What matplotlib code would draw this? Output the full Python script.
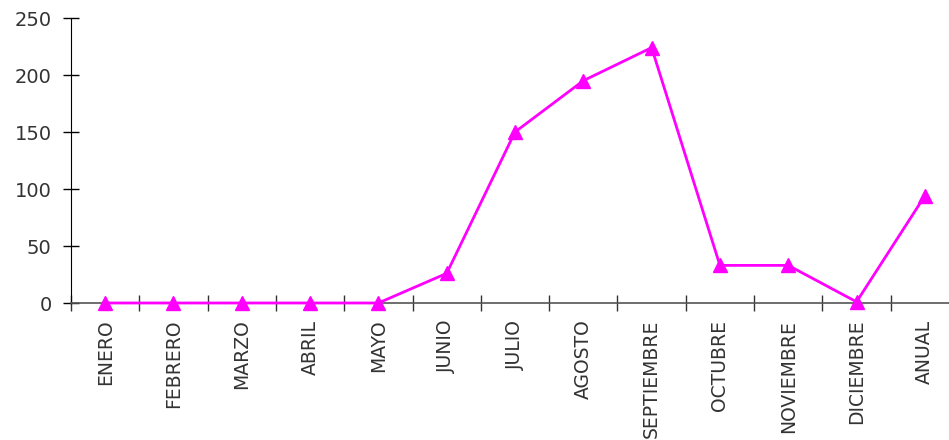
import numpy as np
import matplotlib.pyplot as plt

# Monthly values
months = ["ENERO", "FEBRERO", "MARZO", "ABRIL", "MAYO", "JUNIO", "JULIO",
          "AGOSTO", "SEPTIEMBRE", "OCTUBRE", "NOVIEMBRE", "DICIEMBRE", "ANUAL"]
values = [0, 0, 0, 0, 0, 26, 150, 195, 224, 33, 33, 1, 94]
y_ticks = [0, 50, 100, 150, 200, 250]

plt.rcParams["font.family"] = ["DejaVu Sans"]

fig = plt.figure(figsize=(9.49, 4.40), dpi=100)
ax = fig.add_axes([71 / 949, 137 / 440, 888 / 949, 285 / 440])

x = np.arange(len(months))
ax.plot(x, values, color="#ff00ff", linewidth=2, marker="^", markersize=10,
        clip_on=False, zorder=3)

ax.set_xlim(-0.5, len(months) - 0.5)
ax.set_ylim(0, 250)
ax.set_yticks(y_ticks)
ax.set_yticklabels([str(v) for v in y_ticks])

# category labels at centres, tick marks at boundaries
ax.set_xticks(x)
ax.set_xticklabels(months, rotation=90)
ax.set_xticks(np.arange(len(months) + 1) - 0.5, minor=True)
ax.tick_params(axis="x", which="major", length=0, pad=12, labelsize=13.5,
               labelcolor="#333333")
ax.tick_params(axis="x", which="minor", direction="inout", length=12,
               width=1, color="#333333")
ax.tick_params(axis="y", direction="inout", length=12, width=1, pad=8,
               labelsize=14, labelcolor="#333333")

ax.spines["top"].set_visible(False)
ax.spines["right"].set_visible(False)
ax.spines["left"].set_color("black")
ax.spines["bottom"].set_color("#555555")
ax.spines["bottom"].set_linewidth(1.2)

plt.savefig("out.png", dpi=100)
